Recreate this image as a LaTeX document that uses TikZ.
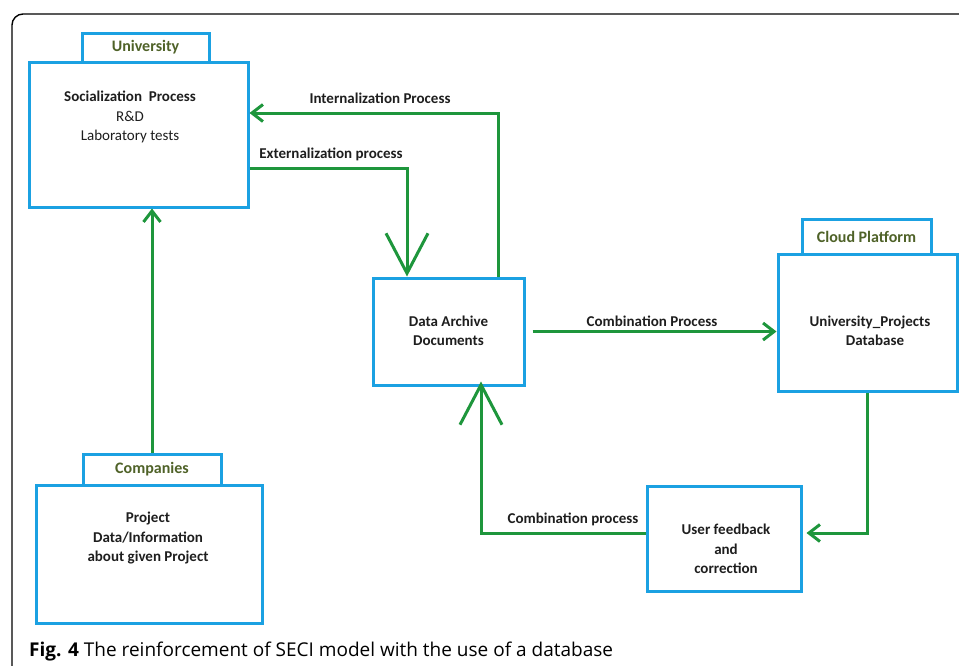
\documentclass[tikz,border=0pt]{standalone}
\usepackage{fontspec}
\setmainfont{Carlito}
\newfontfamily\capfont{Open Sans}
\usetikzlibrary{arrows.meta}
\definecolor{boxblue}{RGB}{27,161,226}
\definecolor{arrgreen}{RGB}{30,150,60}
\definecolor{tabgreen}{RGB}{79,98,40}
\definecolor{txt}{RGB}{30,30,30}
\tikzset{
  box/.style={draw=boxblue, line width=3pt, fill=white, inner sep=0pt},
  tablabel/.style={font=\bfseries\fontsize{16}{18}\selectfont, text=tabgreen},
  body/.style={font=\bfseries\fontsize{15}{19.5}\selectfont, text=txt, align=center},
  conn/.style={draw=arrgreen, line width=3pt, line join=miter},
  smallhead/.style={-{Straight Barb[length=11pt,width=17pt,line width=3pt]}},
  bighead/.style={-{Straight Barb[length=40pt,width=42pt,line width=3pt]}},
  clabel/.style={font=\bfseries\fontsize{15}{17}\selectfont, text=txt},
}
\begin{document}
\begin{tikzpicture}[x=1pt,y=-1pt]
\useasboundingbox (0,0) rectangle (959,665);
\begin{scope}
\clip (0,0) rectangle (959,665);
\draw[line width=1.4pt, rounded corners=11pt] (12,680) -- (12,14) -- (980,14);
\end{scope}

% University
\node[box, minimum width=127pt, minimum height=29pt] (univtab) at (145.5,47.5) {};
\node[tablabel] (univlab) at (univtab.center) {University};
\node[box, minimum width=219pt, minimum height=145pt] (univ) at (138.5,134.5) {};
\node[body] (univtxt) at (130,117)
  {Socialization\ \ Process\\
   \mdseries R\&D\\
   \mdseries Laboratory tests};

% Companies
\node[box, minimum width=138pt, minimum height=31pt] (comptab) at (152,469.5) {};
\node[tablabel] (complab) at (comptab.center) {Companies};
\node[box, minimum width=226pt, minimum height=138pt] (comp) at (149,554) {};
\node[body] (comptxt) at (148,538) {Project\\Data/Information\\about given Project};

% Data archive
\node[box, minimum width=151pt, minimum height=107pt] (arch) at (448.5,331.5) {};
\node[body] (archtxt) at (448.5,331) {Data Archive\\Documents};

% Cloud platform
\node[box, minimum width=129pt, minimum height=35pt] (cloudtab) at (866.5,236.5) {};
\node[tablabel] (cloudlab) at (cloudtab.center) {Cloud Platform};
\node[box, minimum width=179pt, minimum height=137pt] (cloud) at (867.5,322.5) {};
\node[body] (cloudtxt) at (870,331) {University\_Projects\\\hspace*{10pt}Database};

% User feedback
\node[box, minimum width=154pt, minimum height=105pt] (user) at (724,538.5) {};
\node[body] (usertxt) at (726,549) {User feedback\\and\\correction};

% Connectors
\coordinate (ib) at (498,113);
\coordinate (eb) at (407,168);
\coordinate (cb) at (867,533);
\coordinate (lb) at (481,533);

\draw[conn, smallhead] (comptab.north) -- (univ.south -| comptab.north);
\draw[conn, smallhead] (arch.north -| ib) -- (ib) -- (univ.east |- ib);
\draw[conn, bighead] (univ.east |- eb) -- (eb) -- (arch.north -| eb);
\draw[conn, smallhead] ([xshift=7pt]arch.east) -- (cloud.west |- arch.east);
\draw[conn, smallhead] (cloud.south -| cb) -- (cb) -- ([xshift=4pt]user.east |- cb);
\draw[conn, bighead] (user.west |- lb) -- (lb) -- ([yshift=5pt]arch.south -| lb);

% Connector labels
\node[clabel] (lint) at (380,98) {Internalization Process};
\node[clabel] (lext) at (331,154) {Externalization process};
\node[clabel] (lcomb1) at (652,321) {Combination Process};
\node[clabel] (lcomb2) at (573,519) {Combination process};

% Caption
\node[anchor=base west, inner sep=0pt, font=\capfont\fontsize{19}{22}\selectfont, text=black] (cap) at (29,656)
  {\textbf{Fig. 4} The reinforcement of SECI model with the use of a database};
\end{tikzpicture}
\end{document}
